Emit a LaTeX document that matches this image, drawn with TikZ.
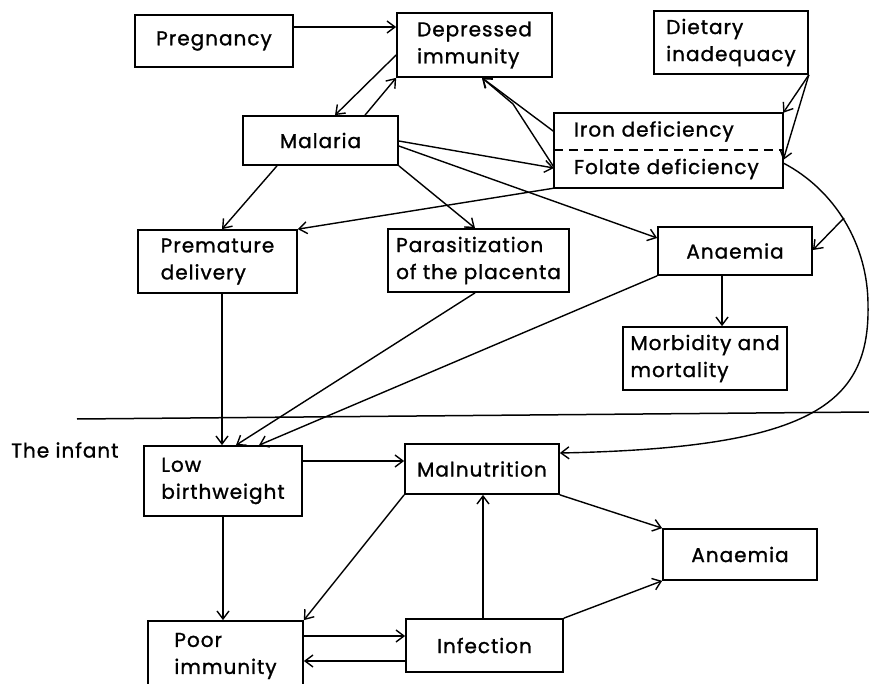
\documentclass[tikz,border=0pt]{standalone}
\usepackage{fontspec}
\setmainfont{Poppins}[LetterSpace=5, FakeBold=1.2]
\usetikzlibrary{arrows.meta}
\begin{document}
\begin{tikzpicture}[x=1pt,y=-1pt,
  lbl/.style={inner sep=0pt, align=left, font=\fontsize{20}{27}\selectfont},
  bx/.style={lbl, draw, line width=1.7pt},
  arr/.style={line width=1.4pt, -{Straight Barb[length=8pt,width=12pt,line width=1.4pt]}},
  ln/.style={line width=1.5pt}]
\useasboundingbox (0,0) rectangle (869,684);
\clip (0,0) rectangle (869,684);
% boxes
\node[bx, minimum width=158pt, minimum height=52pt] (preg) at (214,41) {Pregnancy};
\node[bx, minimum width=155pt, minimum height=64pt] (depr) at (474.5,45) {Depressed\\immunity};
\node[bx, minimum width=154pt, minimum height=63pt] (diet) at (731,42.5) {Dietary\\inadequacy};
\node[bx, minimum width=155pt, minimum height=49pt] (mal) at (320.5,140.5) {Malaria};
\node[lbl, text width=189pt, inner xsep=20pt, minimum height=37pt] (iron) at (668.5,131.5) {Iron deficiency};
\node[lbl, text width=189pt, inner xsep=20pt, minimum height=38pt] (folate) at (668.5,169) {Folate deficiency};
\draw[line width=1.7pt] (iron.north west) rectangle (folate.south east);
\draw[line width=1.7pt, dash pattern=on 9pt off 6pt] (iron.south west) -- (iron.south east);
\node[bx, minimum width=159pt, minimum height=63pt] (prem) at (217.5,261.5) {Premature\\delivery};
\node[bx, minimum width=181pt, minimum height=63pt] (para) at (478.5,260.5) {Parasitization\\of the placenta};
\node[bx, minimum width=154pt, minimum height=48pt] (anae1) at (735,251) {Anaemia};
\node[bx, minimum width=164pt, minimum height=63pt] (morb) at (705,358.5) {Morbidity and\\mortality};
\node[lbl, anchor=west] (infant) at (11,450) {The infant};
\node[bx, minimum width=158pt, minimum height=70pt] (lbw) at (223,481) {Low\\birthweight};
\node[bx, minimum width=154pt, minimum height=50pt] (maln) at (482,469) {Malnutrition};
\node[bx, minimum width=154pt, minimum height=51pt] (anae2) at (740,554.5) {Anaemia};
\node[bx, minimum width=155pt, minimum height=70pt] (poor) at (225.5,656) {Poor\\immunity};
\node[bx, minimum width=157pt, minimum height=53pt] (infe) at (484.5,645.5) {Infection};
% divider
\coordinate (divL) at (77,419);
\coordinate (divR) at (869,412);
\draw[ln] (divL) -- (divR);
% connectors, mother
\draw[arr] (preg.east |- 0,27) -- (depr.west |- 0,27);
\draw[arr] (depr.west |- 0,55) -- (mal.north -| 335,0);
\draw[arr] (mal.north -| 365,0) -- (depr.south west);
\draw[arr] (iron.west) -- (depr.south -| 482,0);
\coordinate (fbend) at (513,104);
\draw[arr] (folate.west |- 0,167) -- (fbend) -- (depr.south -| 482,0);
\draw[arr] (diet.south east) -- (iron.north east);
\draw[arr] (diet.south east) -- (folate.east |- 0,160);
\draw[arr] (mal.east |- 0,141) -- (folate.west |- 0,168);
\draw[arr] (mal.east |- 0,146) -- (anae1.west |- 0,238);
\draw[arr] (mal.south east) -- (para.north -| 475,0);
\draw[arr] (mal.south -| 277,0) -- (prem.north -| 222,0);
\draw[arr] (folate.south west) -- (prem.north east);
\draw[arr] (folate.east |- 0,163) .. controls (835,190) and (868,245) .. (868,305)
   .. controls (870,405) and (810,448) .. (maln.east |- 0,453);
\coordinate (br) at (844,218);
\draw[arr] (br) -- (anae1.east |- 0,250);
\draw[arr] (anae1.south -| 722,0) -- (morb.north -| 722,0);
\draw[arr] (prem.south -| 222,0) -- (lbw.north -| 222,0);
\draw[arr] (para.south -| 475,0) -- (lbw.north -| 236,0);
\draw[arr] (anae1.south west) -- (lbw.north -| 259,0);
% connectors, infant
\draw[arr] (lbw.east |- 0,461) -- (maln.west |- 0,461);
\draw[arr] (lbw.south -| 223,0) -- (poor.north -| 223,0);
\draw[arr] (maln.south west) -- (poor.north east);
\draw[arr] (maln.south east) -- (anae2.north west);
\draw[arr] (infe.north -| 483,0) -- (maln.south -| 483,0);
\draw[arr] (infe.north east) -- (anae2.south west);
\draw[arr] (poor.east |- 0,636) -- (infe.west |- 0,636);
\draw[arr] (infe.west |- 0,661) -- (poor.east |- 0,661);
\end{tikzpicture}
\end{document}
